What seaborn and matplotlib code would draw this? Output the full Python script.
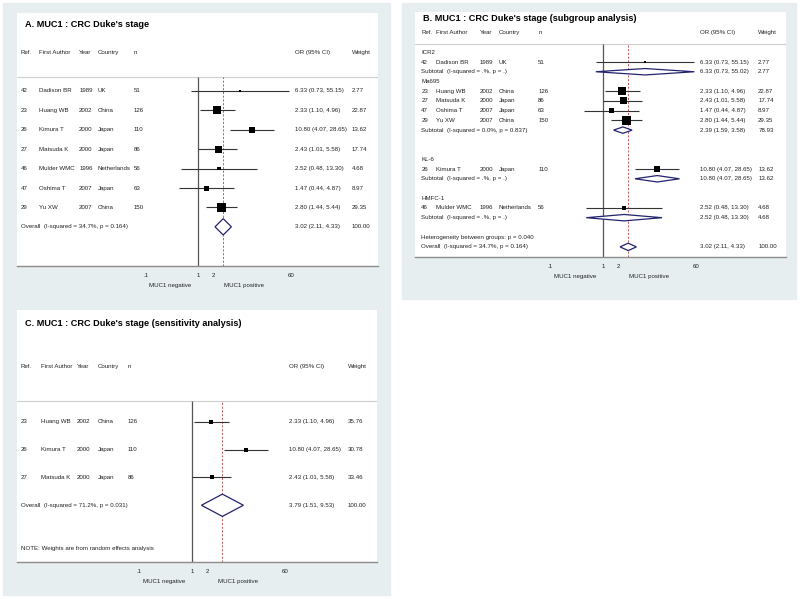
import matplotlib.pyplot as plt
import seaborn as sns
import pandas as pd
from matplotlib.patches import Rectangle


# ___ Data ___

refs = [42, 23, 26, 27, 46, 47, 29]
authors = ['Dadison BR', 'Huang WB', 'Kimura T', 'Matsuda K', 'Mulder WMC', 'Oshima T', 'Yu XW']
years = [1989, 2002, 2000, 2000, 1996, 2007, 2007]
countries = ['UK', 'China', 'Japan', 'Japan', 'Netherlands', 'Japan', 'China']
n_cases = [51, 126, 110, 86, 56, 63, 150]
odds = [6.33, 2.33, 10.80, 2.43, 2.52, 1.47, 2.80]
ci_low = [0.73, 1.10, 4.07, 1.01, 0.48, 0.44, 1.44]
ci_high = [55.15, 4.96, 28.65, 5.58, 13.30, 4.87, 5.44]
weights = [2.77, 22.87, 13.62, 17.74, 4.68, 8.97, 29.35]

overall_a = (3.02, 2.11, 4.33, 100.00, '34.7%', '0.164')

# subgroup analysis (panel B): groups hold indices into the study lists
groups = ['ICR2', 'Ma695', 'KL-6', 'HMFC-1']
group_members = [[0], [1, 3, 5, 6], [2], [4]]
group_or = [6.33, 2.39, 10.80, 2.52]
group_low = [0.73, 1.59, 4.07, 0.48]
group_high = [55.02, 3.58, 28.65, 13.30]
group_weight = [2.77, 78.93, 13.62, 4.68]
group_i2 = ['.%', '0.0%', '.%', '.%']
group_p = ['.', '0.837', '.', '.']
group_gap = [0, 0, 2, 1]  # blank rows before each group
heterogeneity_p = '0.040'

# sensitivity analysis (panel C)
sens_members = [1, 2, 3]
sens_weights = [35.76, 30.78, 33.46]
overall_c = (3.79, 1.51, 9.53, 100.00, '71.2%', '0.031')

tick_values = [0.1, 1, 2, 60]
tick_labels = ['.1', '1', '2', '60']
label_neg = 'MUC1 negative'
label_pos = 'MUC1 positive'
headers = ['Ref.', 'First Author', 'Year', 'Country', 'n', 'OR (95% CI)', 'Weight']


# ___ Style ___

sns.set_theme(style='white')
plt.rcParams['font.family'] = ['Liberation Sans', 'DejaVu Sans']

W, H = 800, 599
BG = '#e7eef0'
NAVY = '#23236e'
FS = 4.4
TFS = 6.6

fig = plt.figure(figsize=(W / 100, H / 100), dpi=100)
fig.patch.set_facecolor('white')


def add_panel(outer, inner):
    x0, y0, x1, y1 = outer
    fig.patches.append(Rectangle((x0 / W, 1 - y1 / H), (x1 - x0) / W, (y1 - y0) / H,
                                 transform=fig.transFigure, color=BG, zorder=-10))
    x0, y0, x1, y1 = inner
    ax = fig.add_axes([x0 / W, 1 - y1 / H, (x1 - x0) / W, (y1 - y0) / H])
    ax.set_facecolor('white')
    ax.set_zorder(5)
    return ax


def fmt_or(o, lo, hi):
    return f'{o:.2f} ({lo:.2f}, {hi:.2f})'


def diamond(ax, y, o, lo, hi, half):
    ax.fill([lo, o, hi, o, lo], [y, y - half, y, y + half, y],
            facecolor='white', edgecolor=NAVY, lw=0.9, zorder=4)


def forest(ax, cols, xlim, ylim, title, title_y, header_y, sep_y, study_rows, diamonds, texts, box_scale, box_const=None):
    ax.set_xscale('log')
    ax.set_xlim(*xlim)
    ax.set_ylim(*ylim)
    tr = ax.get_yaxis_transform()

    # title + headers
    ax.text(0.022, title_y, title, transform=tr, fontsize=TFS,
            fontweight='bold', va='center', ha='left', color='black')
    for c, h in zip(cols, headers):
        ax.text(c, header_y, h, transform=tr, fontsize=FS, va='center', ha='left', color='#222')
    ax.axhline(sep_y, color='#cfcfcf', lw=0.8)

    # reference lines
    ax.vlines(1, ylim[0], sep_y, color='#555555', lw=0.9, zorder=2)
    ov = diamonds[-1]
    ax.vlines(ov[2], ylim[0], sep_y, color='#b5413f', lw=0.6, linestyles=(0, (2.5, 2)), zorder=2)

    # studies
    df = pd.DataFrame(study_rows, columns=['y', 'idx', 'w'])
    for _, r in df.iterrows():
        i = int(r['idx'])
        y = r['y']
        ax.hlines(y, ci_low[i], ci_high[i], color='#333333', lw=0.8, zorder=3)
        vals = [refs[i], authors[i], years[i], countries[i], n_cases[i],
                fmt_or(odds[i], ci_low[i], ci_high[i]), f"{r['w']:.2f}"]
        for c, v in zip(cols, vals):
            ax.text(c, y, str(v), transform=tr, fontsize=FS, va='center', ha='left', color='#222')
    df['or'] = [odds[int(i)] for i in df['idx']]
    if box_const is None:
        sns.scatterplot(data=df, x='or', y='y', size='w', sizes=(0, 100 * box_scale), size_norm=(0, 100),
                        marker='s', color='black', linewidth=0, legend=False, ax=ax, zorder=5)
    else:
        sns.scatterplot(data=df, x='or', y='y', s=box_const, marker='s', color='black',
                        linewidth=0, legend=False, ax=ax, zorder=5)

    # pooled estimates
    for y, label, o, lo, hi, w, half in diamonds:
        diamond(ax, y, o, lo, hi, half)
        ax.text(cols[0], y, label, transform=tr, fontsize=FS, va='center', ha='left', color='#222')
        ax.text(cols[5], y, fmt_or(o, lo, hi), transform=tr, fontsize=FS, va='center', ha='left', color='#222')
        ax.text(cols[6], y, f'{w:.2f}', transform=tr, fontsize=FS, va='center', ha='left', color='#222')

    for y, label in texts:
        ax.text(cols[0], y, label, transform=tr, fontsize=FS, va='center', ha='left', color='#222')

    # axis
    for s in ['top', 'left', 'right']:
        ax.spines[s].set_visible(False)
    ax.spines['bottom'].set_color('#8c8c8c')
    ax.spines['bottom'].set_linewidth(1.0)
    ax.set_xticks(tick_values)
    ax.set_xticklabels(tick_labels)
    ax.minorticks_off()
    ax.set_yticks([])
    ax.tick_params(axis='x', length=0, pad=5, labelsize=FS, labelcolor='#222')
    ax.set_xlabel('')
    ax.set_ylabel('')
    ax.set_ylim(*ylim)
    ax.annotate(label_neg, (1, 0), xycoords=('data', 'axes fraction'), xytext=(-5, -14),
                textcoords='offset points', fontsize=FS, ha='right', va='center', color='#222')
    ax.annotate(label_pos, (1, 0), xycoords=('data', 'axes fraction'), xytext=(18.4, -14),
                textcoords='offset points', fontsize=FS, ha='left', va='center', color='#222')


DEC = 52.5  # pixels per decade

# ___ Panel A ___
ax_a = add_panel((3, 3, 390, 300), (17, 13, 378, 266))
cols_a = [0.011, 0.061, 0.172, 0.224, 0.324, 0.770, 0.928]
forest(ax_a, cols_a, (10 ** (-181 / DEC), 10 ** (180 / DEC)), (9.02, -4.02),
       "A. MUC1 : CRC Duke's stage", -3.45, -2, -0.72,
       [(k, i, weights[i]) for k, i in enumerate(range(7))],
       [(7, f'Overall  (I-squared = {overall_a[4]}, p = {overall_a[5]})', *overall_a[:4], 0.42)],
       [], 1.45)

# ___ Panel B ___
ax_b = add_panel((402, 3, 796, 299), (415, 12, 786, 257))
cols_b = [0.017, 0.057, 0.175, 0.226, 0.332, 0.768, 0.925]
rows_b, dia_b, txt_b = [], [], []
y = 0
for g, members in enumerate(group_members):
    y += group_gap[g]
    txt_b.append((y, groups[g]))
    y += 1
    for i in members:
        rows_b.append((y, i, weights[i]))
        y += 1
    dia_b.append((y, f'Subtotal  (I-squared = {group_i2[g]}, p = {group_p[g]})',
                  group_or[g], group_low[g], group_high[g], group_weight[g], 0.33))
    y += 1
txt_b.append((y + 1, f'Heterogeneity between groups: p = {heterogeneity_p}'))
dia_b.append((y + 2, f'Overall  (I-squared = {overall_a[4]}, p = {overall_a[5]})', *overall_a[:4], 0.38))
forest(ax_b, cols_b, (10 ** (-188 / DEC), 10 ** (183 / DEC)), (21.04, -4.14),
       "B. MUC1 : CRC Duke's stage (subgroup analysis)", -3.5, -2, -0.85,
       rows_b, dia_b, txt_b, 1.45)

# ___ Panel C ___
ax_c = add_panel((3, 300, 390, 595), (17, 310, 377, 562))
cols_c = [0.011, 0.067, 0.167, 0.225, 0.308, 0.756, 0.919]
forest(ax_c, cols_c, (10 ** (-175 / DEC), 10 ** (185 / DEC)), (5.04, -4.02),
       "C. MUC1 : CRC Duke's stage (sensitivity analysis)", -3.55, -2, -0.74,
       [(k, i, sens_weights[k]) for k, i in enumerate(sens_members)],
       [(3, f'Overall  (I-squared = {overall_c[4]}, p = {overall_c[5]})', *overall_c[:4], 0.4)],
       [(4.57, 'NOTE: Weights are from random effects analysis')], 1.0, box_const=6.5)

fig.savefig('out.png', dpi=100, facecolor='white')
